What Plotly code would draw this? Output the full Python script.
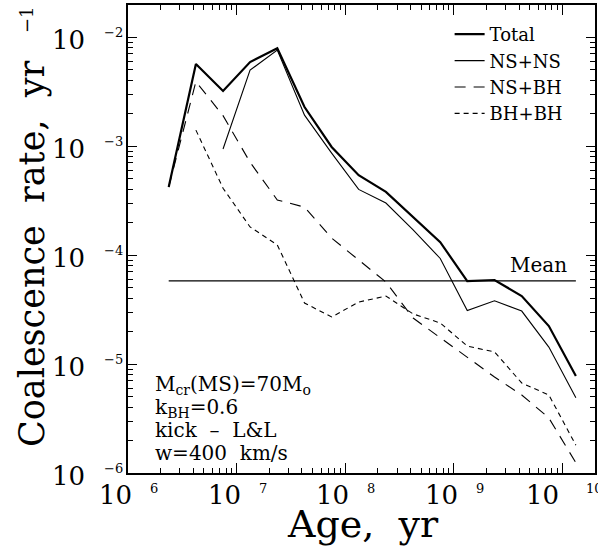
import plotly.graph_objects as go
import math

# ---- data ----
age = [2.37e6, 4.22e6, 7.5e6, 1.33e7, 2.37e7, 4.22e7, 7.5e7, 1.33e8,
       2.37e8, 4.22e8, 7.5e8, 1.33e9, 2.37e9, 4.22e9, 7.5e9, 1.33e10]

total = [4.2e-4, 5.65e-3, 3.2e-3, 5.9e-3, 7.9e-3, 2.28e-3, 9.8e-4, 5.4e-4,
         3.8e-4, 2.23e-4, 1.31e-4, 5.77e-5, 5.9e-5, 4.2e-5, 2.23e-5, 7.76e-6]
ns_ns = [None, None, 9.4e-4, 4.97e-3, 7.6e-3, 1.92e-3, 8.6e-4, 4.0e-4,
         3.0e-4, 1.7e-4, 9.3e-5, 3.1e-5, 3.8e-5, 3.06e-5, 1.43e-5, 4.9e-6]
ns_bh = [4.2e-4, 3.9e-3, 1.9e-3, 7.1e-4, 3.2e-4, 2.75e-4, 1.43e-4, 9.0e-5,
         5.65e-5, 2.64e-5, 1.74e-5, 1.16e-5, 7.6e-6, 5.2e-6, 3.2e-6, 1.24e-6]
bh_bh = [None, 1.4e-3, 4.1e-4, 1.81e-4, 1.24e-4, 3.63e-5, 2.7e-5, 3.7e-5,
         4.2e-5, 2.88e-5, 2.38e-5, 1.46e-5, 1.29e-5, 6.7e-6, 5.2e-6, 1.8e-6]

mean_rate = [5.8e-5]
mean_age = [age[0], age[-1]]

x_exponents = [6, 7, 8, 9, 10]
y_exponents = [-6, -5, -4, -3, -2]

series_names = ["Total", "NS+NS", "NS+BH", "BH+BH"]
info_lines = ["M<sub>cr</sub>(MS)=70M<sub>o</sub>", "k<sub>BH</sub>=0.6",
              "kick  \u2013  L&L", "w=400  km/s"]

FONT = "DejaVu Serif"

fig = go.Figure()
styles = [dict(width=2.2, dash="solid"),
          dict(width=1.1, dash="solid"),
          dict(width=1.1, dash="11px,8px"),
          dict(width=1.1, dash="5px,4px")]
for name, ys, st in zip(series_names, [total, ns_ns, ns_bh, bh_bh], styles):
    fig.add_trace(go.Scatter(x=age, y=ys, mode="lines", name=name,
                             line=dict(color="black", **st), connectgaps=False))

fig.add_trace(go.Scatter(x=mean_age, y=mean_rate * 2, mode="lines",
                         line=dict(color="black", width=1.3), showlegend=False))

axis_common = dict(type="log", tickmode="linear", tick0=0, dtick=1,
                   ticks="inside", tickwidth=1.2, tickcolor="black",
                   showline=True, linecolor="black", linewidth=1.5,
                   mirror="allticks", showgrid=False, zeroline=False,
                   showticklabels=False)
fig.update_xaxes(range=[6, 10.30], ticklen=10,
                 minor=dict(ticks="inside", ticklen=5, tickwidth=1,
                            tickcolor="black", dtick="D1", showgrid=False),
                 **axis_common)
fig.update_yaxes(range=[-6, -1.706], ticklen=9,
                 minor=dict(ticks="inside", ticklen=5, tickwidth=1,
                            tickcolor="black", dtick="D1", showgrid=False),
                 **axis_common)

ann = []
# y tick labels
for e in y_exponents:
    ann.append(dict(text="10", xref="paper", x=0, xanchor="right", xshift=-41,
                    yref="y", y=e, yanchor="middle", yshift=-3,
                    showarrow=False, font=dict(family=FONT, size=26)))
    ann.append(dict(text="\u2212%d" % abs(e), xref="paper", x=0, xanchor="left",
                    xshift=-26, yref="y", y=e, yanchor="middle", yshift=5,
                    showarrow=False, font=dict(family=FONT, size=13)))
# x tick labels
for e in x_exponents:
    wide = len(str(e)) > 1
    ann.append(dict(text="10", xref="x", x=e, xanchor="right",
                    xshift=-1 if wide else 6, yref="paper", y=0,
                    yanchor="middle", yshift=-22, showarrow=False,
                    font=dict(family=FONT, size=26)))
    ann.append(dict(text=str(e), xref="x", x=e, xanchor="left",
                    xshift=22 if wide else 20, yref="paper", y=0,
                    yanchor="middle", yshift=-15, showarrow=False,
                    font=dict(family=FONT, size=13)))

# axis titles
ann.append(dict(text="Coalescence  rate,  yr", textangle=-90, xref="paper",
                x=0, xshift=-96, xanchor="center", yref="paper",
                y=(473 - 254) / 468, yanchor="middle", showarrow=False,
                font=dict(family=FONT, size=35)))
ann.append(dict(text="\u22121", textangle=-90, xref="paper", x=0, xshift=-102,
                xanchor="center", yref="paper", y=(473 - 20) / 468,
                yanchor="middle", showarrow=False,
                font=dict(family=FONT, size=18)))
ann.append(dict(text="Age,  yr", xref="paper", x=(364 - 128) / 469,
                xanchor="center", yref="paper", y=0, yanchor="middle",
                yshift=-51, showarrow=False, font=dict(family=FONT, size=38)))

# mean label
ann.append(dict(text="Mean", xref="x", x=math.log10(age[-1]), xanchor="right",
                xshift=-7, yref="y", y=math.log10(mean_rate[0]),
                yanchor="bottom", yshift=2, showarrow=False,
                font=dict(family=FONT, size=20)))

# info block
for i, line in enumerate(info_lines):
    base = 392 + i * 22.7
    ann.append(dict(text=line, xref="paper", x=(153 - 128) / 469,
                    xanchor="left", yref="paper", y=(473 - (base - 7)) / 468,
                    yanchor="middle", showarrow=False,
                    font=dict(family=FONT, size=20)))

fig.update_layout(
    width=598, height=550,
    margin=dict(l=128, r=1, t=5, b=77),
    paper_bgcolor="white", plot_bgcolor="white",
    font=dict(family=FONT, color="black"),
    annotations=ann,
    legend=dict(x=(451 - 128) / 469, xanchor="left", y=(473 - 16) / 468,
                yanchor="top", bgcolor="rgba(0,0,0,0)",
                font=dict(family=FONT, size=18), itemwidth=30),
)

fig.write_html("out.html", config={"displayModeBar": False},
               post_script="document.body.style.margin='0px';"
                           "document.body.style.padding='0px';")
